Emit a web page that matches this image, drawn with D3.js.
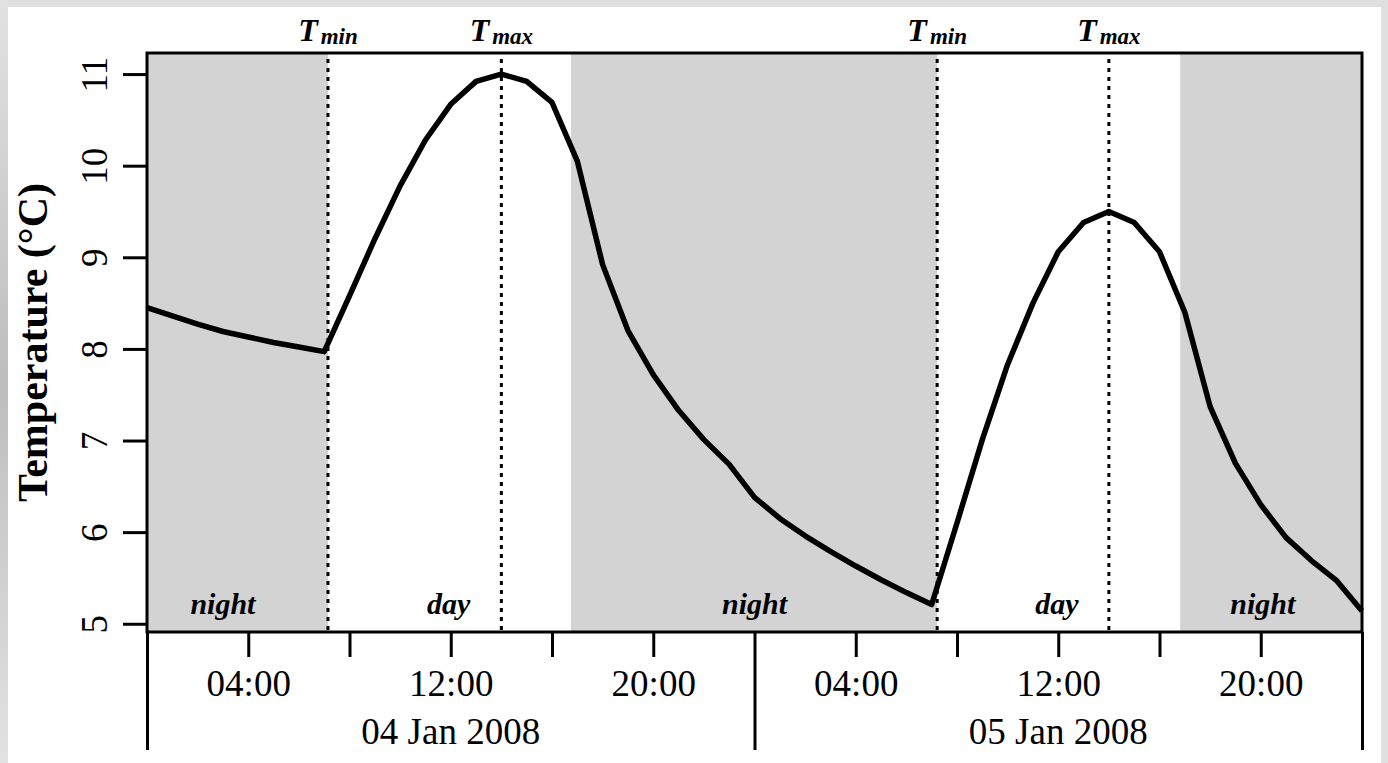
<!DOCTYPE html>
<html>
<head>
<meta charset="utf-8">
<script src="https://cdn.jsdelivr.net/npm/d3@7"></script>
<style>
  body { margin: 0; background: #dedede; }
  svg { display: block; }
  text { font-family: "Liberation Serif", "Times New Roman", serif; fill: #000; }
</style>
</head>
<body>
<div id="chart"></div>
<script>
// hourly temperatures from 04 Jan 2008 00:00 to 06 Jan 2008 00:00
const startTime = "2008-01-04 00:00";
const temps = [
  8.45, 8.36, 8.27, 8.19, 8.13, 8.07, 8.02, 7.97,
  8.58, 9.20, 9.78, 10.28, 10.67, 10.92, 11.00, 10.92,
  10.69, 10.05, 8.92, 8.20, 7.72, 7.33, 7.01, 6.74,
  6.38, 6.15, 5.96, 5.79, 5.63, 5.48, 5.34, 5.21,
  6.10, 7.01, 7.83, 8.50, 9.06, 9.38, 9.50, 9.38,
  9.06, 8.40, 7.37, 6.75, 6.30, 5.94, 5.69, 5.47,
  5.14
];

// night periods (sunset -> sunrise)
const nightStart = ["2008-01-04 00:00", "2008-01-04 16:45", "2008-01-05 16:49"];
const nightEnd   = ["2008-01-04 07:09", "2008-01-05 07:13", "2008-01-06 00:00"];

// markers for time of min and max temperature
const tminTimes = ["2008-01-04 07:09", "2008-01-05 07:13"];
const tmaxTimes = ["2008-01-04 14:00", "2008-01-05 14:00"];

// period labels
const periodNames = ["night", "day", "night", "day", "night"];
const periodTimes = ["2008-01-04 03:00", "2008-01-04 11:55", "2008-01-05 00:00", "2008-01-05 11:57", "2008-01-05 20:05"];

const yTicks = [5, 6, 7, 8, 9, 10, 11];
const yDomain = [4.91, 11.23];
const dayLabels = ["04 Jan 2008", "05 Jan 2008"];

const parse = d3.timeParse("%Y-%m-%d %H:%M");
const t0 = parse(startTime);
const data = temps.map((v, i) => ({date: d3.timeHour.offset(t0, i), temp: v}));

const width = 1388, height = 763;
const margin = {top: 53, right: 26, bottom: 131, left: 147};

const svg = d3.select("#chart").append("svg")
    .attr("width", width)
    .attr("height", height);

// soft grey backdrop, darker along the left edge
const grad = svg.append("defs").append("linearGradient")
    .attr("id", "bg").attr("x1", 0).attr("y1", 0).attr("x2", 0).attr("y2", 1);
grad.append("stop").attr("offset", "0%").attr("stop-color", "#e2e2e2");
grad.append("stop").attr("offset", "50%").attr("stop-color", "#bdbdbd");
grad.append("stop").attr("offset", "100%").attr("stop-color", "#e2e2e2");
svg.append("rect").attr("width", width).attr("height", height).attr("fill", "#e0e0e0");
svg.append("rect").attr("width", 9).attr("height", height).attr("fill", "url(#bg)");

// white page panel
svg.append("rect")
    .attr("x", 8).attr("y", 7)
    .attr("width", 1373).attr("height", 770)
    .attr("fill", "#fff");

const x = d3.scaleTime()
    .domain([t0, d3.timeDay.offset(t0, 2)])
    .range([margin.left, width - margin.right]);
const y = d3.scaleLinear()
    .domain(yDomain)
    .range([height - margin.bottom, margin.top]);

const plotBottom = height - margin.bottom;

// night shading
svg.append("g").selectAll("rect")
    .data(nightStart.map((s, i) => [parse(s), parse(nightEnd[i])]))
    .join("rect")
    .attr("x", d => x(d[0]))
    .attr("width", d => x(d[1]) - x(d[0]))
    .attr("y", margin.top)
    .attr("height", plotBottom - margin.top)
    .attr("fill", "#d3d3d3");

// dotted Tmin / Tmax lines
const markers = tminTimes.map(t => ({date: parse(t), sub: "min"}))
    .concat(tmaxTimes.map(t => ({date: parse(t), sub: "max"})));

svg.append("g").selectAll("line")
    .data(markers)
    .join("line")
    .attr("x1", d => x(d.date)).attr("x2", d => x(d.date))
    .attr("y1", margin.top + 6).attr("y2", plotBottom)
    .attr("stroke", "#000")
    .attr("stroke-width", 3)
    .attr("stroke-dasharray", "4,5");

// labels above plot
const mLab = svg.append("g").selectAll("text")
    .data(markers)
    .join("text")
    .attr("x", d => x(d.date))
    .attr("y", 41)
    .attr("text-anchor", "middle")
    .style("font-weight", "bold")
    .style("font-style", "italic");
mLab.append("tspan").style("font-size", "32px").text("T");
mLab.append("tspan").style("font-size", "23px").attr("dx", 3).attr("dy", 3).text(d => d.sub);

// period labels
svg.append("g").selectAll("text")
    .data(periodNames)
    .join("text")
    .attr("x", (d, i) => x(parse(periodTimes[i])))
    .attr("y", 614)
    .attr("text-anchor", "middle")
    .style("font-size", "30px")
    .style("font-weight", "bold")
    .style("font-style", "italic")
    .text(d => d);

// temperature line
const line = d3.line()
    .x(d => x(d.date))
    .y(d => y(d.temp));

svg.append("path")
    .datum(data)
    .attr("fill", "none")
    .attr("stroke", "#000")
    .attr("stroke-width", 5.5)
    .attr("stroke-linejoin", "round")
    .attr("d", line);

// plot box
svg.append("rect")
    .attr("x", margin.left).attr("y", margin.top)
    .attr("width", width - margin.right - margin.left)
    .attr("height", plotBottom - margin.top)
    .attr("fill", "none")
    .attr("stroke", "#000")
    .attr("stroke-width", 3);

// y axis
const yAxis = svg.append("g")
    .attr("transform", `translate(${margin.left},0)`)
    .call(d3.axisLeft(y).tickValues(yTicks).tickSize(24).tickFormat(d3.format("d")));
yAxis.select(".domain").remove();
yAxis.selectAll(".tick line").attr("stroke", "#000").attr("stroke-width", 3);
yAxis.selectAll(".tick text")
    .attr("transform", "rotate(-90)")
    .attr("x", 0).attr("y", -40).attr("dy", null)
    .attr("text-anchor", "middle")
    .style("font-size", "37px")
    .style("font-family", "Liberation Serif");

// hour ticks every 4 hours (not at midnight)
const hourTicks = d3.timeHour.every(4).range(x.domain()[0], x.domain()[1])
    .filter(d => d.getHours() !== 0);
const fmtHour = d3.timeFormat("%H:%M");
const xAxis = svg.append("g")
    .attr("transform", `translate(0,${plotBottom})`)
    .call(d3.axisBottom(x).tickValues(hourTicks).tickSize(25)
        .tickFormat(d => (d.getHours() % 8 === 4) ? fmtHour(d) : ""));
xAxis.select(".domain").remove();
xAxis.selectAll(".tick line").attr("stroke", "#000").attr("stroke-width", 3);
xAxis.selectAll(".tick text")
    .attr("y", 64).attr("dy", null)
    .style("font-size", "37px")
    .style("font-family", "Liberation Serif");

// day ticks and labels
const dayTicks = d3.timeDay.range(x.domain()[0], d3.timeHour.offset(x.domain()[1], 1));
const dAxis = svg.append("g")
    .attr("transform", `translate(0,${plotBottom})`)
    .call(d3.axisBottom(x).tickValues(dayTicks).tickSize(118).tickFormat(""));
dAxis.select(".domain").remove();
dAxis.selectAll(".tick line").attr("stroke", "#000").attr("stroke-width", 3);

svg.append("g").selectAll("text")
    .data(dayLabels)
    .join("text")
    .attr("x", (d, i) => x(d3.timeHour.offset(dayTicks[i], 12)))
    .attr("y", 744)
    .attr("text-anchor", "middle")
    .style("font-size", "37px")
    .text(d => d);

// y axis title
svg.append("text")
    .attr("transform", `translate(47,${(margin.top + plotBottom) / 2}) rotate(-90)`)
    .attr("text-anchor", "middle")
    .style("font-size", "42px")
    .style("font-weight", "bold")
    .text("Temperature (°C)");
</script>
</body>
</html>
